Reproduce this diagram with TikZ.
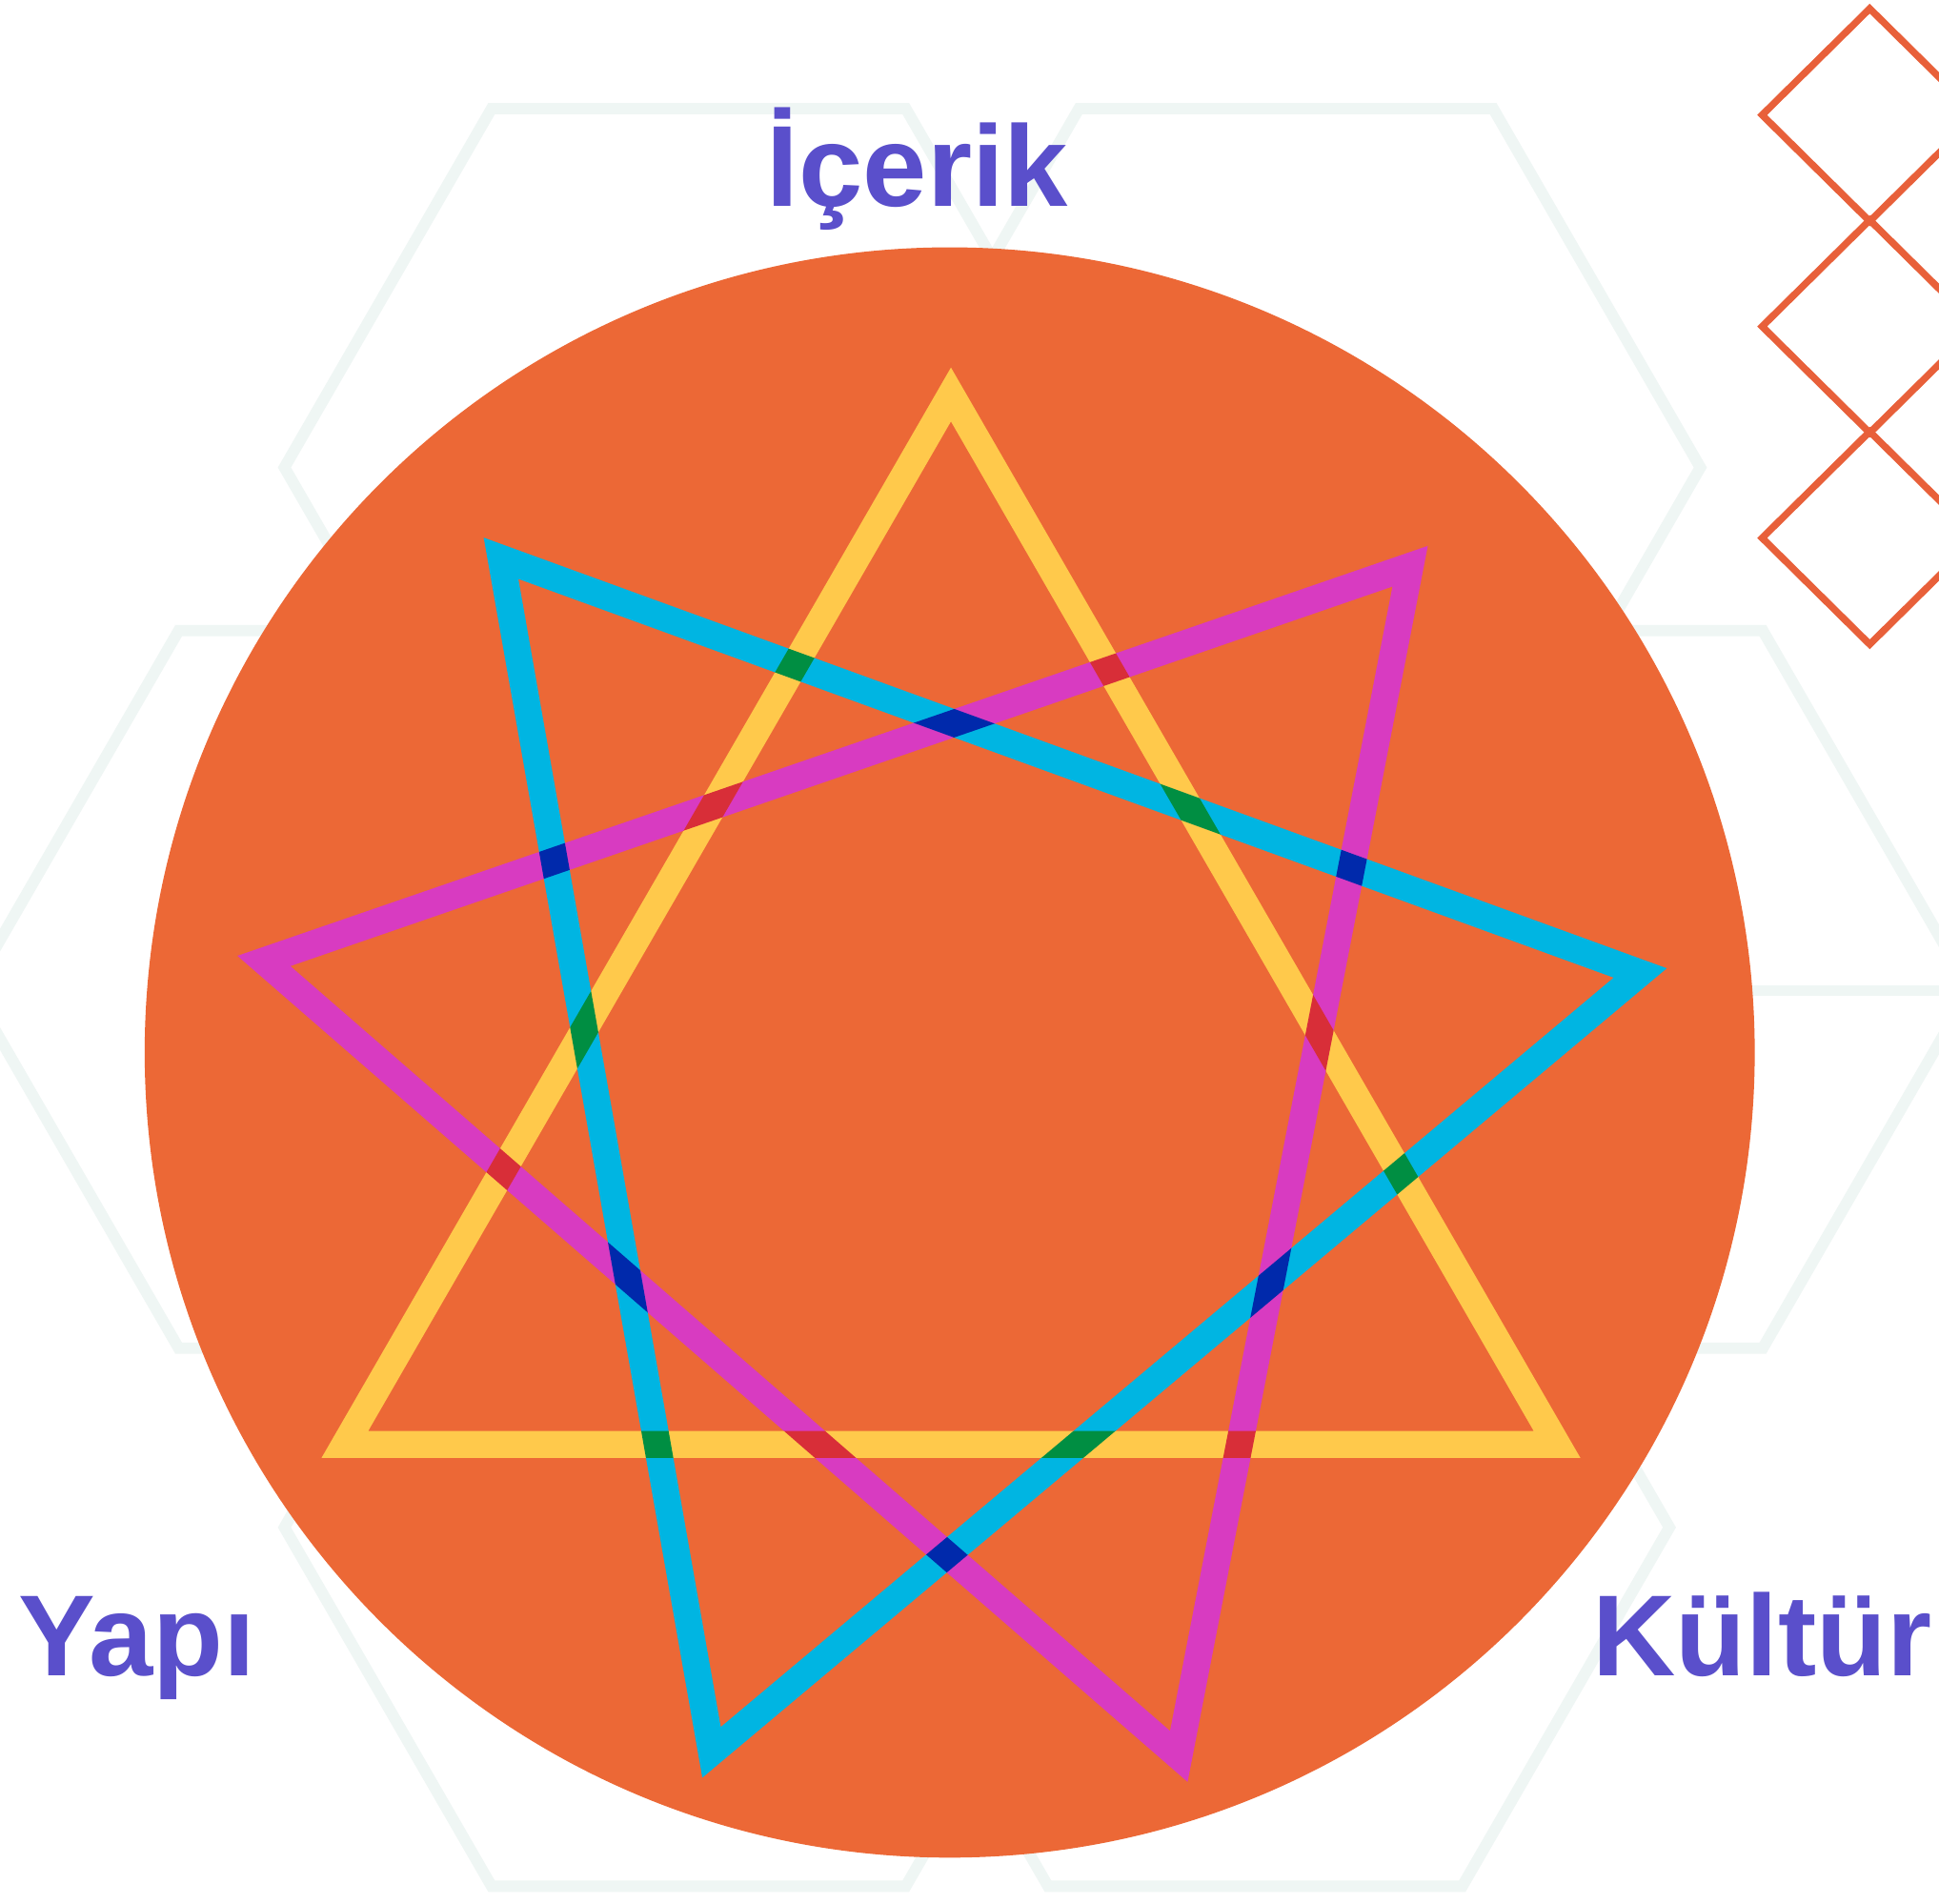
\documentclass[tikz,border=0pt]{standalone}
\usepackage{fontspec}
\setmainfont{Liberation Sans}
\usepackage{tikz}
\usetikzlibrary{calc}
\definecolor{discorange}{HTML}{EC6836}
\definecolor{triyellow}{HTML}{FFC94B}
\definecolor{tricyan}{HTML}{00B5E2}
\definecolor{trimagenta}{HTML}{D83BC1}
\definecolor{labelblue}{HTML}{5A4FCB}
\definecolor{hexgray}{HTML}{EFF6F4}
\definecolor{diamondorange}{HTML}{E8603A}

\begin{document}
\begin{tikzpicture}[
    x=0.01cm, y=0.01cm,
    hexline/.style={draw=hexgray, line width=2.6pt, line join=miter},
    triband/.style={line width=6.2pt, line join=miter},
    diamondline/.style={draw=diamondorange, line width=1.6pt},
    cornerlabel/.style={text=labelblue, font=\fontsize{26.5}{30}\selectfont\bfseries, anchor=base, inner sep=0pt},
]

\useasboundingbox (0,0) rectangle (1568,1539);
\fill[white] (0,0) rectangle (1568,1539);
\clip (0,0) rectangle (1568,1539);

% Background hexagons
\def\hexside{335}
\foreach \cx/\cy in {565/1161, 1040/1161, 312/739, 1258/739, 565/304, 1015/304} {
    \draw[hexline] (\cx+\hexside, \cy) -- ++(120:\hexside) -- ++(180:\hexside)
        -- ++(240:\hexside) -- ++(300:\hexside) -- ++(0:\hexside) -- cycle;
}
\draw[hexline] (1300,738) -- (1600,738);

% Diamonds top right
\foreach \i in {0,1,2} {
    \pgfmathsetmacro{\dy}{1446 - \i*171}
    \draw[diamondline] (1512,\dy+86) -- (1599,\dy) -- (1512,\dy-86) -- (1425,\dy) -- cycle;
}

% Disc
\fill[discorange] (768,688) circle[radius=651];

% Three triangles, overlaps multiplied
\coordinate (starc) at (769,654);
\begin{scope}[transparency group]
\begin{scope}[blend mode=multiply]
\foreach \rot/\col in {0/triyellow, 40/tricyan, -41/trimagenta} {
    \draw[triband, draw=\col] ($(starc)+(90+\rot:566)$) -- ($(starc)+(210+\rot:566)$)
        -- ($(starc)+(330+\rot:566)$) -- cycle;
}
\end{scope}
\end{scope}

% Labels
\node[cornerlabel] (icerik) at (742,1372) {İçerik};
\node[cornerlabel] (yapi) at (111,184) {Yapı};
\node[cornerlabel] (kultur) at (1425,184) {Kültür};

\end{tikzpicture}
\end{document}
